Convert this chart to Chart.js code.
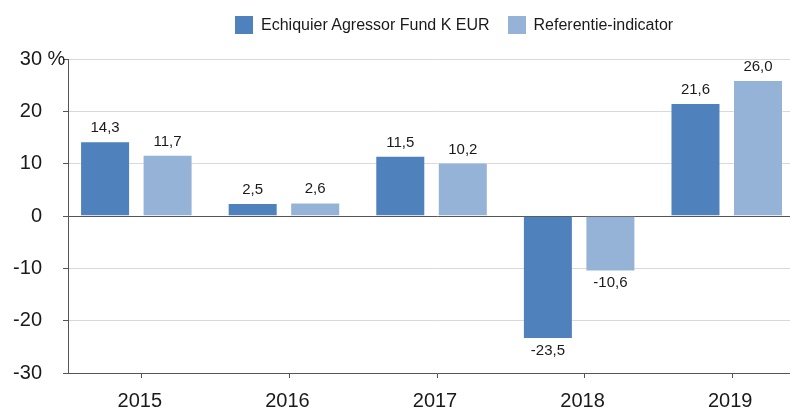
<!DOCTYPE html>
<html>
<head>
<meta charset="utf-8">
<script src="https://cdn.jsdelivr.net/npm/chart.js@4.4.1/dist/chart.umd.min.js"></script>
<style>
  body { margin: 0; width: 790px; height: 410px; overflow: hidden; background: #fff; font-family: "Liberation Sans", Arial, sans-serif; }
  #wrap { position: relative; width: 806px; height: 410px; }
  #legend { position: absolute; left: 235px; top: 16px; display: flex; align-items: center; font-size: 16px; color: #1a1a1a; }
  #legend .item { display: flex; align-items: center; margin-right: 18px; line-height: 18px; }
  #legend .box { width: 18px; height: 18px; margin-right: 8px; }
</style>
</head>
<body>
<div id="wrap">
  <canvas id="chart" width="806" height="410"></canvas>
  <div id="legend"></div>
</div>
<script>
const years = ['2015', '2016', '2017', '2018', '2019'];
const fund = [14.3, 2.5, 11.5, -23.5, 21.6];
const benchmark = [11.7, 2.6, 10.2, -10.6, 26.0];
const seriesNames = ['Echiquier Agressor Fund K EUR', 'Referentie-indicator'];
const colors = ['#4f81bd', '#95b3d7'];

// bars sit a few px left of the year ticks in the original
const shift = 0.037;
const textColor = '#1a1a1a';
const axisColor = '#555';

Chart.defaults.font.family = '"Liberation Sans", Arial, sans-serif';

const toPoints = arr => arr.map((v, i) => ({ x: i, y: v }));

const barLabels = {
  id: 'barLabels',
  afterDatasetsDraw(chart) {
    const ctx = chart.ctx;
    ctx.save();
    ctx.font = '15px "Liberation Sans", Arial, sans-serif';
    ctx.fillStyle = textColor;
    ctx.textAlign = 'center';
    ctx.textBaseline = 'alphabetic';
    chart.data.datasets.forEach((ds, i) => {
      chart.getDatasetMeta(i).data.forEach((bar, j) => {
        const v = ds.data[j].y;
        const txt = v.toFixed(1).replace('.', ',');
        ctx.fillText(txt, bar.x, v >= 0 ? bar.y - 9 : bar.y + 16);
      });
    });
    ctx.restore();
  }
};

// "%" after the top tick label
const pctSign = {
  id: 'pctSign',
  afterDraw(chart) {
    const y = chart.scales.y;
    const ctx = chart.ctx;
    ctx.save();
    ctx.font = '20px "Liberation Sans", Arial, sans-serif';
    ctx.fillStyle = textColor;
    ctx.textAlign = 'left';
    ctx.textBaseline = 'middle';
    ctx.fillText(' %', y.right - 5 - 21, y.getPixelForValue(y.max));
    ctx.restore();
  }
};

const chart = new Chart(document.getElementById('chart').getContext('2d'), {
  type: 'bar',
  data: {
    labels: years,
    datasets: [
      { label: seriesNames[0], data: toPoints(fund), backgroundColor: colors[0], borderColor: 'rgba(255,255,255,0.3)', borderWidth: 1 },
      { label: seriesNames[1], data: toPoints(benchmark), backgroundColor: colors[1], borderColor: 'rgba(255,255,255,0.3)', borderWidth: 1 }
    ]
  },
  options: {
    responsive: false,
    animation: false,
    categoryPercentage: 0.847,
    barPercentage: 0.8,
    layout: { padding: { top: 59, left: 0, right: 0, bottom: 0 } },
    plugins: { legend: { display: false }, tooltip: { enabled: false } },
    scales: {
      x: {
        type: 'linear',
        display: false,
        offset: false,
        min: -0.5 + shift,
        max: 4.5 + shift,
        ticks: { stepSize: 1, includeBounds: false }
      },
      years: {
        type: 'category',
        position: 'bottom',
        labels: years,
        offset: true,
        grid: { offset: false, drawOnChartArea: false, tickLength: 5, tickColor: axisColor },
        border: { color: axisColor },
        ticks: { font: { size: 20 }, color: textColor, padding: 11, maxRotation: 0, labelOffset: -2 },
        afterFit(scale) { scale.height = 37; }
      },
      y: {
        min: -30,
        max: 30,
        ticks: { stepSize: 10, font: { size: 20 }, color: textColor, padding: 21 },
        grid: {
          color: c => c.tick.value === 0 ? axisColor : '#d9d9d9',
          tickColor: axisColor,
          tickLength: 5
        },
        border: { color: axisColor },
        afterFit(scale) { scale.width = 68; }
      }
    }
  },
  plugins: [barLabels, pctSign]
});

const legend = document.getElementById('legend');
chart.data.datasets.forEach(ds => {
  const item = document.createElement('div');
  item.className = 'item';
  item.innerHTML = '<span class="box" style="background:' + ds.backgroundColor + '"></span><span>' + ds.label + '</span>';
  legend.appendChild(item);
});
</script>
</body>
</html>
